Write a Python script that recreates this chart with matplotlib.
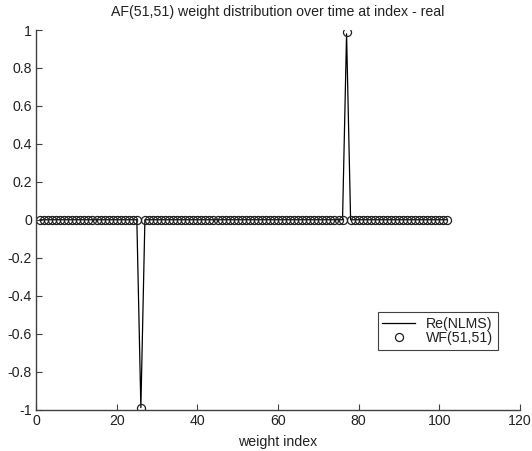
import matplotlib
matplotlib.use("Agg")
import matplotlib.pyplot as plt
import numpy as np

plt.rcParams['font.family'] = ['Liberation Sans', 'DejaVu Sans']

n_weights = 102
spike_neg_index = 26
spike_pos_index = 77
nlms_neg_value = -0.99
nlms_pos_value = 0.98
wf_neg_value = -0.99
wf_pos_value = 0.99
title = "AF(51,51) weight distribution over time at index - real"
xlabel = "weight index"
xticks = [0, 20, 40, 60, 80, 100, 120]
yticks = [-1, -0.8, -0.6, -0.4, -0.2, 0, 0.2, 0.4, 0.6, 0.8, 1]
ytick_labels = ["-1", "-0.8", "-0.6", "-0.4", "-0.2", "0", "0.2", "0.4", "0.6", "0.8", "1"]

idx = np.arange(1, n_weights + 1)
nlms = np.zeros(n_weights)
nlms[spike_neg_index - 1] = nlms_neg_value
nlms[spike_pos_index - 1] = nlms_pos_value
wf = np.zeros(n_weights)
wf[spike_neg_index - 1] = wf_neg_value
wf[spike_pos_index - 1] = wf_pos_value

fig = plt.figure(figsize=(5.32, 4.51), dpi=100)
ax = fig.add_axes([36/532, 41.5/451, 484/532, 379.5/451])

axc = '#404040'
fs = 10.2
ax.plot(idx, nlms, color='black', lw=0.9, label='Re(NLMS)')
ax.plot(idx, wf, ls='none', marker='o', ms=5.8, mfc='none', mec='#202020', mew=0.9, label='WF(51,51)')

ax.set_xlim(0, 120)
ax.set_ylim(-1, 1)
ax.set_xticks(xticks)
ax.set_yticks(yticks)
ax.set_yticklabels(ytick_labels)
for s in ['top', 'right']:
    ax.spines[s].set_visible(False)
for s in ['left', 'bottom']:
    ax.spines[s].set_color(axc)
    ax.spines[s].set_linewidth(1.0)
ax.tick_params(direction='in', length=4, width=0.8, colors=axc, labelcolor='#202020', labelsize=fs, pad=3)
ax.set_title(title, fontsize=fs, color='#202020', pad=10)
ax.set_xlabel(xlabel, fontsize=fs, color='#202020', labelpad=5)

leg = ax.legend(loc='upper left', bbox_to_anchor=(0.707, 0.256), fontsize=fs,
                fancybox=False, frameon=True, edgecolor=axc, framealpha=1,
                borderpad=0.3, handlelength=2.3, handletextpad=0.8, labelspacing=0.05,
                borderaxespad=0)
leg.get_frame().set_linewidth(0.8)
for t in leg.get_texts():
    t.set_color('#202020')

fig.savefig('out.png', dpi=100)
